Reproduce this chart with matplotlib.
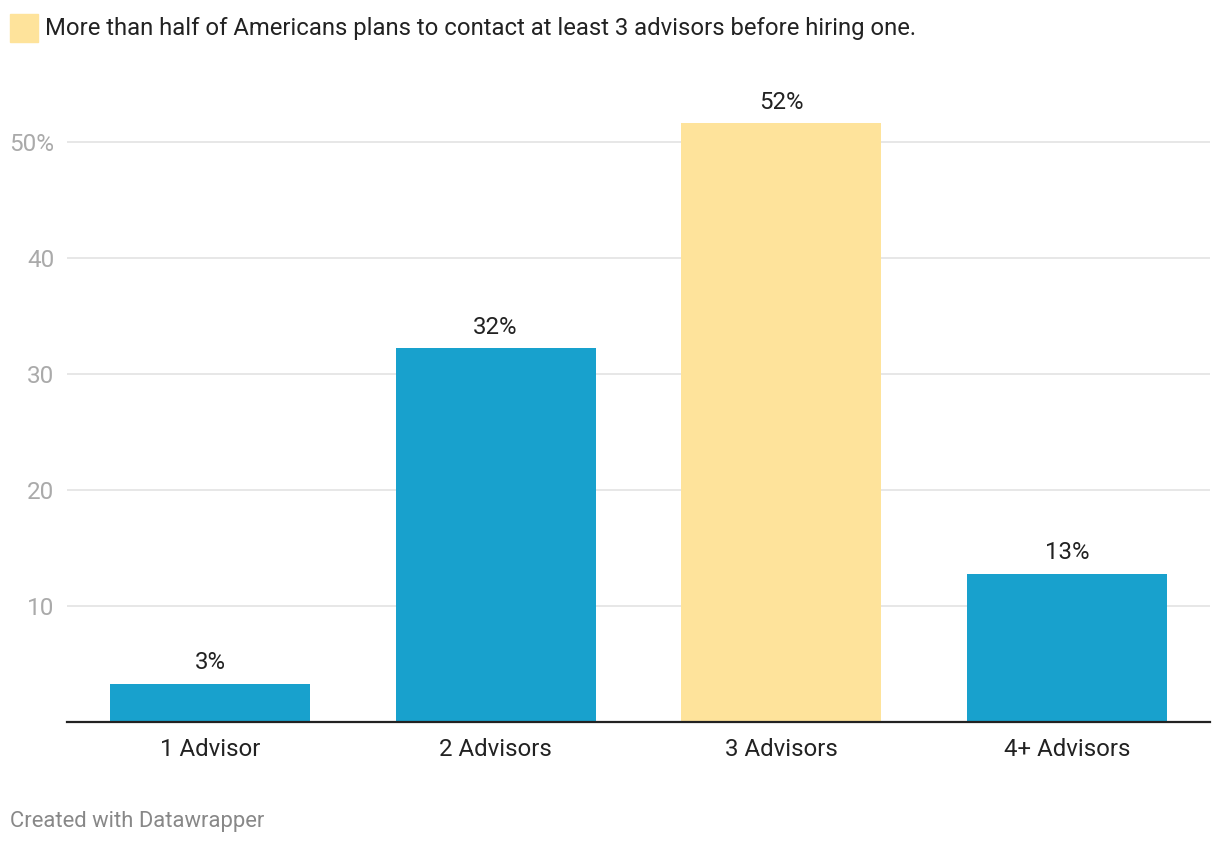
import matplotlib.pyplot as plt
from matplotlib.patches import Rectangle

plt.rcParams['font.family'] = ['Roboto', 'DejaVu Sans']

categories = ['1 Advisor', '2 Advisors', '3 Advisors', '4+ Advisors']
values = [3.3, 32.2, 51.6, 12.8]
labels = ['3%', '32%', '52%', '13%']
highlight = '3 Advisors'
yticks = [10, 20, 30, 40, 50]
yticklabels = ['10', '20', '30', '40', '50%']

blue = '#18a1cd'
yellow = '#fee39b'

fig = plt.figure(figsize=(12.2, 8.44), dpi=100)
ax = fig.add_axes([67 / 1220, 1 - 722 / 844, (1210 - 67) / 1220, (722 - 100) / 844])

x = list(range(len(categories)))
colors = [yellow if c == highlight else blue for c in categories]
ax.bar(x, values, width=0.7, color=colors, zorder=2)

for xi, v, lab in zip(x, values, labels):
    ax.annotate(lab, (xi, v), xytext=(0, 7), textcoords='offset points',
                ha='center', va='bottom', fontsize=17.3, color='#222222')

ax.set_xlim(-0.5, 3.5)
ax.set_ylim(0, (722 - 100) / 11.6)
ax.set_yticks(yticks)
ax.set_yticklabels(yticklabels)
ax.set_xticks(x)
ax.set_xticklabels(categories)
ax.grid(axis='y', color='#e3e3e3', linewidth=1.2, zorder=0)
ax.tick_params(axis='y', length=0, pad=9, labelsize=17.5, labelcolor='#aaaaaa')
ax.tick_params(axis='x', length=0, pad=11.5, labelsize=17.3, labelcolor='#222222')
for s in ['top', 'right', 'left']:
    ax.spines[s].set_visible(False)
ax.spines['bottom'].set_color('#222222')
ax.spines['bottom'].set_linewidth(1.6)
ax.spines['bottom'].set_zorder(3)

# legend / title
fig.patches.append(Rectangle((10 / 1220, 1 - 42 / 844), 28 / 1220, 28 / 844,
                             transform=fig.transFigure, color=yellow))
fig.text(45 / 1220, 1 - 28 / 844,
         'More than half of Americans plans to contact at least 3 advisors before hiring one.',
         fontsize=17.2, color='#222222', va='center', ha='left')

fig.text(10 / 1220, 1 - 821 / 844, 'Created with Datawrapper',
         fontsize=15.8, color='#888888', va='center', ha='left')

fig.savefig('out.png', dpi=100)
